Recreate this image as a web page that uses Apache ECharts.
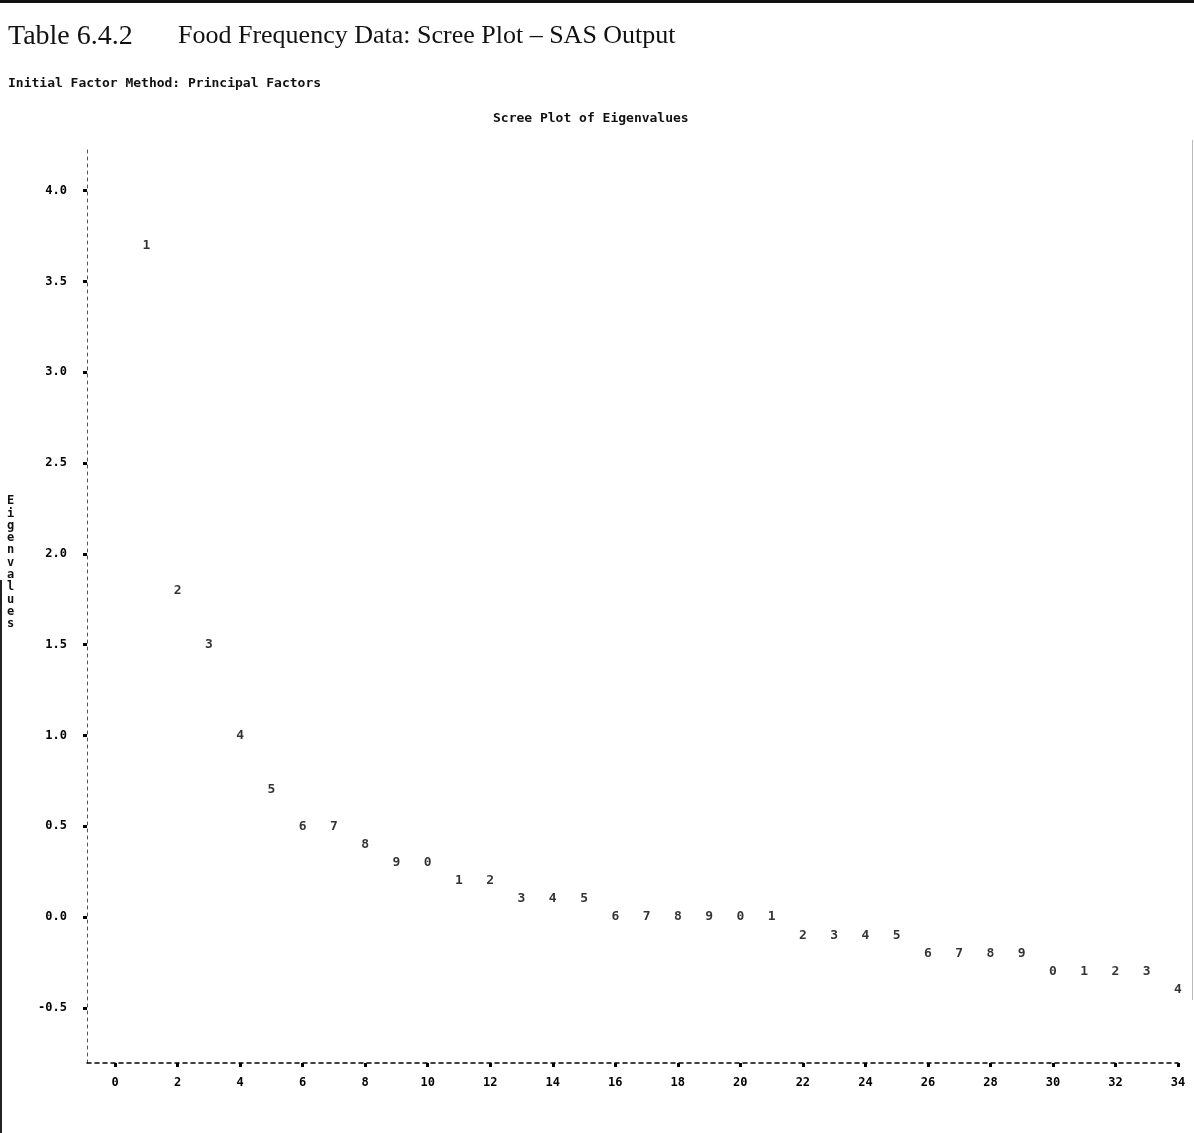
<!DOCTYPE html>
<html style="height: 100%">
  <head>
    <meta charset="utf-8" />
    <title>Scree Plot</title>
    <script src="https://cdn.jsdelivr.net/npm/echarts@6/dist/echarts.min.js"></script>
  </head>
  <body style="height: 100%; margin: 0; background: #fff">
    <div id="container" style="width: 1194px; height: 1133px"></div>

    <script type="text/javascript">
      // factor numbers and eigenvalues
      var factors = [1, 2, 3, 4, 5, 6, 7, 8, 9, 10, 11, 12, 13, 14, 15, 16, 17,
        18, 19, 20, 21, 22, 23, 24, 25, 26, 27, 28, 29, 30, 31, 32, 33, 34];
      var eigenvalues = [3.7, 1.8, 1.5, 1.0, 0.7, 0.5, 0.5, 0.4, 0.3, 0.3, 0.2, 0.2,
        0.1, 0.1, 0.1, 0.0, 0.0, 0.0, 0.0, 0.0, 0.0, -0.1, -0.1, -0.1, -0.1,
        -0.2, -0.2, -0.2, -0.2, -0.3, -0.3, -0.3, -0.3, -0.4];
      var xTicks = [0, 2, 4, 6, 8, 10, 12, 14, 16, 18, 20, 22, 24, 26, 28, 30, 32, 34];
      var yTicks = [-0.5, 0, 0.5, 1.0, 1.5, 2.0, 2.5, 3.0, 3.5, 4.0];

      var mono = 'DejaVu Sans Mono';
      var dom = document.getElementById('container');
      var myChart = echarts.init(dom);

      var points = factors.map(function (f, i) {
        return [f, eigenvalues[i]];
      });

      myChart.setOption({
        backgroundColor: '#fff',
        animation: false,
        graphic: [
          // page frame
          { type: 'rect', shape: { x: 0, y: 0, width: 1194, height: 3 }, style: { fill: '#111' } },
          { type: 'rect', shape: { x: 0, y: 580, width: 2, height: 553 }, style: { fill: '#222' } },
          { type: 'rect', shape: { x: 1192, y: 140, width: 1, height: 860 }, style: { fill: '#bbb' } },
          {
            type: 'text', left: 8, top: 23,
            style: { text: 'Table 6.4.2', font: '28px "Liberation Serif"', fill: '#111' }
          },
          {
            type: 'text', left: 178, top: 23,
            style: { text: 'Food Frequency Data: Scree Plot – SAS Output', font: '26px "Liberation Serif"', fill: '#111' }
          },
          {
            type: 'text', left: 8, top: 77,
            style: { text: 'Initial Factor Method: Principal Factors', font: 'bold 13px "' + mono + '"', fill: '#111' }
          },
          {
            type: 'text', left: 493, top: 112,
            style: { text: 'Scree Plot of Eigenvalues', font: 'bold 13px "' + mono + '"', fill: '#111' }
          },
          {
            type: 'text', left: 7, top: 495,
            style: {
              text: 'Eigenvalues'.split('').join('\n'),
              font: 'bold 12px "' + mono + '"', lineHeight: 12.3, fill: '#111'
            }
          }
        ],
        grid: { left: 87, right: 16, top: 150, bottom: 70 },
        xAxis: {
          type: 'value',
          min: -0.9,
          max: 34,
          splitLine: { show: false },
          axisLine: { show: true, onZero: false, lineStyle: { color: '#000', width: 1.5, type: [4, 4] } },
          axisTick: { show: true, customValues: xTicks, length: 4, lineStyle: { color: '#000', width: 3 } },
          axisLabel: {
            customValues: xTicks,
            margin: 14,
            color: '#000',
            fontFamily: mono,
            fontWeight: 'bold',
            fontSize: 12
          }
        },
        yAxis: {
          type: 'value',
          min: -0.804,
          max: 4.224,
          splitLine: { show: false },
          axisLine: { show: true, onZero: false, lineStyle: { color: '#555', width: 1, type: [3, 4] } },
          axisTick: { show: true, customValues: yTicks, length: 4, lineStyle: { color: '#000', width: 3 } },
          axisLabel: {
            customValues: yTicks,
            margin: 20,
            color: '#000',
            fontFamily: mono,
            fontWeight: 'bold',
            fontSize: 12,
            formatter: function (v) { return v.toFixed(1); }
          }
        },
        series: [
          {
            type: 'scatter',
            data: points,
            symbolSize: 1,
            itemStyle: { color: 'rgba(0,0,0,0)' },
            label: {
              show: true,
              position: 'inside',
              color: '#000',
              fontFamily: mono,
              fontWeight: 'bold',
              fontSize: 13,
              formatter: function (p) { return String(p.value[0] % 10); }
            }
          }
        ]
      });
    </script>
  </body>
</html>
